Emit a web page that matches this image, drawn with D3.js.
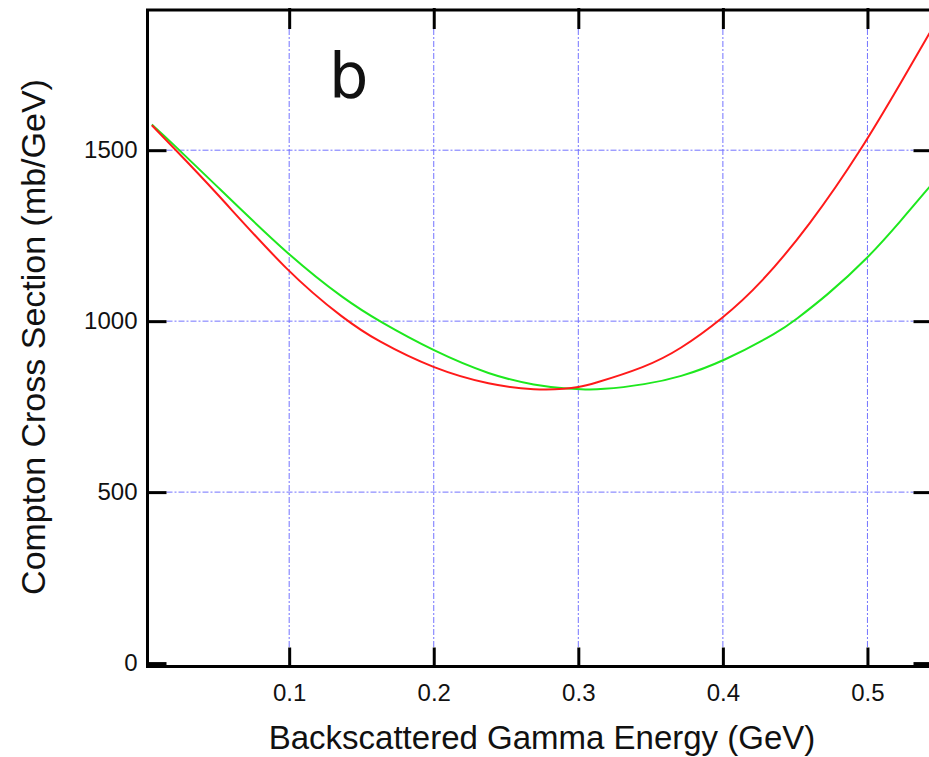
<!DOCTYPE html>
<html>
<head>
<meta charset="utf-8">
<script src="https://cdn.jsdelivr.net/npm/d3@7"></script>
<style>
  body { margin: 0; background: #fff; }
  svg { display: block; }
  text { font-family: "Liberation Sans", Arial, sans-serif; fill: #111; }
</style>
</head>
<body>
<div id="chart"></div>
<script>
// gamma energy (GeV) and Compton cross section (mb/GeV)
const redEnergy = [0.005, 0.017, 0.047, 0.1, 0.139, 0.16, 0.2, 0.239, 0.271, 0.292, 0.3, 0.308, 0.347, 0.37, 0.4, 0.426, 0.46, 0.496, 0.525, 0.543];
const redSigma  = [1573, 1520, 1389, 1137, 1003, 944, 860, 813, 798, 802, 807, 814, 866, 916, 1008, 1108, 1280, 1502, 1711, 1843];

const greenEnergy = [0.005, 0.017, 0.047, 0.1, 0.139, 0.162, 0.2, 0.239, 0.271, 0.292, 0.301, 0.315, 0.347, 0.37, 0.4, 0.44, 0.449, 0.472, 0.5, 0.523, 0.543];
const greenSigma  = [1575, 1529, 1407, 1190, 1061, 1000, 912, 842, 811, 803, 801, 799, 815, 836, 881, 972, 1000, 1075, 1183, 1293, 1393];

const xTicks = [0.1, 0.2, 0.3, 0.4, 0.5];
const yTicks = [0, 500, 1000, 1500];

const W = 929, H = 757;
const plotLeft = 147.5, plotRight = 932.5, plotTop = 10, plotBottom = 666.5;
const tickLen = 19;

const x = d3.scaleLinear().domain([0.002, 0.545]).range([plotLeft, plotRight]);
const y = d3.scaleLinear().domain([-10, 1910]).range([plotBottom, plotTop]);

const svg = d3.select("#chart").append("svg")
  .attr("width", W)
  .attr("height", H);

// grid, dash-dot, between the inner ends of the ticks
const grid = svg.append("g")
  .attr("stroke", "#7373ff")
  .attr("stroke-width", 1)
  .attr("stroke-dasharray", "6,2,2,2");

grid.selectAll(".vgrid")
  .data(xTicks)
  .enter()
  .append("line")
  .attr("x1", d => x(d)).attr("x2", d => x(d))
  .attr("y1", plotTop + tickLen).attr("y2", plotBottom - tickLen);

grid.selectAll(".hgrid")
  .data(yTicks.filter(d => d > 0))
  .enter()
  .append("line")
  .attr("y1", d => y(d)).attr("y2", d => y(d))
  .attr("x1", plotLeft + tickLen).attr("x2", plotRight - tickLen);

// curves
const line = d3.line()
  .x(d => x(d[0]))
  .y(d => y(d[1]))
  .curve(d3.curveBasis);

const curves = [
  { e: greenEnergy, s: greenSigma, color: "#1ee81e" },
  { e: redEnergy, s: redSigma, color: "#ff1a1a" }
];

svg.append("g")
  .selectAll("path")
  .data(curves)
  .enter()
  .append("path")
  .attr("fill", "none")
  .attr("stroke", d => d.color)
  .attr("stroke-width", 2)
  .attr("d", d => line(d.e.map((v, i) => [v, d.s[i]])));

// frame and ticks
svg.append("rect")
  .attr("x", plotLeft).attr("y", plotTop)
  .attr("width", plotRight - plotLeft).attr("height", plotBottom - plotTop)
  .attr("fill", "none")
  .attr("stroke", "#000")
  .attr("stroke-width", 3);

const axisBottom = svg.append("g")
  .attr("transform", `translate(0,${plotBottom})`)
  .call(d3.axisBottom(x).tickValues(xTicks).tickSize(-tickLen).tickPadding(17).tickFormat(d3.format(".1f")));

const axisTop = svg.append("g")
  .attr("transform", `translate(0,${plotTop - 2})`)
  .call(d3.axisTop(x).tickValues(xTicks).tickSize(-tickLen - 2).tickFormat(""));

const axisLeft = svg.append("g")
  .attr("transform", `translate(${plotLeft},0)`)
  .call(d3.axisLeft(y).tickValues(yTicks).tickSize(-tickLen).tickPadding(10).tickFormat(d3.format("d")));

const axisRight = svg.append("g")
  .attr("transform", `translate(${plotRight},0)`)
  .call(d3.axisRight(y).tickValues(yTicks).tickSize(-tickLen).tickFormat(""));

[axisBottom, axisTop, axisLeft, axisRight].forEach(a => {
  a.select(".domain").remove();
  a.selectAll(".tick line").attr("stroke", "#000").attr("stroke-width", 3);
  a.selectAll(".tick text")
    .attr("fill", "#111")
    .style("font-family", "'Liberation Sans', Arial, sans-serif")
    .style("font-size", "24px");
});

// axis titles
svg.append("text")
  .attr("x", 542)
  .attr("y", 749)
  .attr("text-anchor", "middle")
  .style("font-size", "33px")
  .text("Backscattered Gamma Energy (GeV)");

svg.append("text")
  .attr("transform", "translate(45,337) rotate(-90)")
  .attr("text-anchor", "middle")
  .style("font-size", "34px")
  .text("Compton Cross Section (mb/GeV)");

// panel letter
svg.append("text")
  .attr("x", 329)
  .attr("y", 97)
  .style("font-family", "'DejaVu Sans', sans-serif")
  .style("font-size", "62px")
  .attr("fill", "#000")
  .text("b");
</script>
</body>
</html>
